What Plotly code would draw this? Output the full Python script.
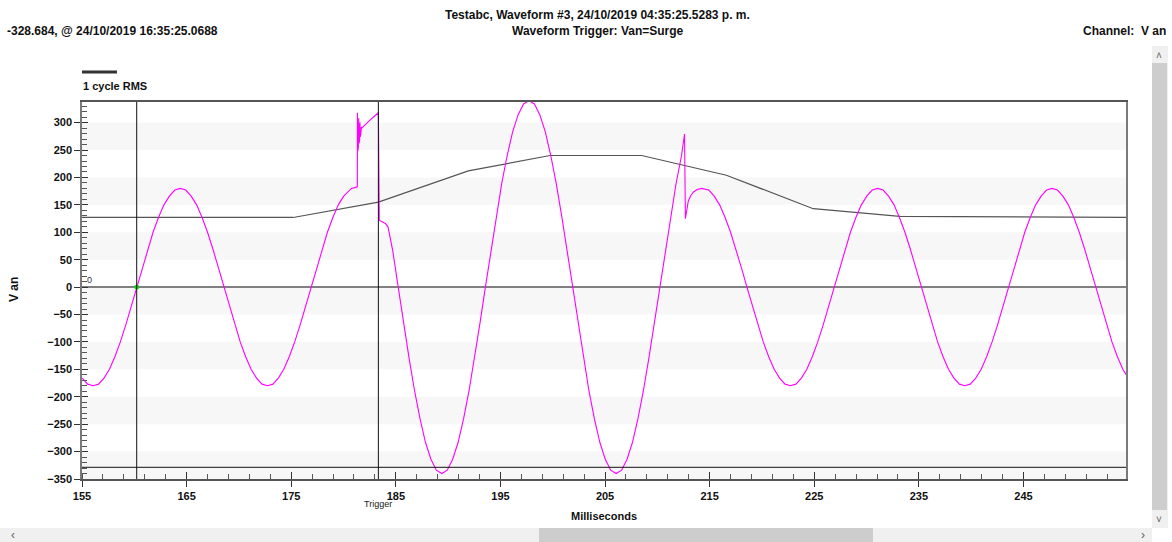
import plotly.graph_objects as go

# ---------------- data ----------------
# V an waveform, sampled on a regular grid (start time + sample interval, ms)
SAMPLE_START_MS = 155.02
SAMPLE_INTERVAL_MS = 0.520833
van_samples = [
    -166, -177, -180, -177, -166, -150, -127, -100, -69, -35,
    0, 35, 69, 100, 127, 150, 166, 177, 180, 177, 166, 150, 127, 100, 69, 35,
    0, -35, -69, -100, -127, -150, -166, -177, -180, -177, -166, -150, -127, -100, -69, -35,
    0, 35, 69, 100, 127, 150, 166, 177,
    None, None, None, None, None, None, None,
    66, 0, -66, -130, -189, -240, -283, -314, -334, -340, -334, -314, -283, -240, -189, -130, -66,
    0, 66, 130, 189, 240, 283, 314, 334, 340, 334, 314, 283, 240, 189, 130, 66,
    0, -66, -130, -189, -240, -283, -314, -334, -340, -334, -314, -283, -240, -189, -130, -66,
    0, 66, 130, 189, 240,
    None, None, None, None,
    177, 166, 150, 127, 100, 69, 35, 0, -35, -69, -100, -127, -150, -166, -177, -180, -177,
    -166, -150, -127, -100, -69, -35,
    0, 35, 69, 100, 127, 150, 166, 177, 180, 177, 166, 150, 127, 100, 69, 35,
    0, -35, -69, -100, -127, -150, -166, -177, -180, -177, -166, -150, -127, -100, -69, -35,
    0, 35, 69, 100, 127, 150, 166, 177, 180, 177, 166, 150, 127, 100, 69, 35,
    0, -35, -69, -100, -127, -150, -166,
]

# surge detail read point by point (ms, V)
surge1_t = [180.75, 181.0, 181.2, 181.32, 181.33, 181.36, 181.39, 181.42, 181.45, 181.48,
            181.51, 181.54, 181.57, 181.60, 181.63, 181.66, 181.70, 181.75, 182.5, 183.33,
            183.42, 183.7, 184.0, 184.25]
surge1_v = [180, 181, 182, 183, 318, 248, 314, 255, 308, 262,
            304, 268, 300, 274, 296, 280, 292, 290, 304, 318,
            122, 119, 116, 110]
surge2_t = [212.6, 212.68, 212.8, 212.96, 213.2, 213.44, 213.8, 214.24]
surge2_v = [279, 125, 143, 157, 167, 173, 178, 180]

# 1 cycle RMS (ms, V)
rms_t = [155.0, 175.19, 183.33, 191.93, 199.74, 208.5, 216.6, 224.9, 233.2, 255.0]
rms_v = [127, 127, 155, 212, 240, 240, 204, 143, 129, 127]

# cursors
cursor_times = [160.23, 183.33]
cursor_level = -328.684

X_RANGE = [155, 254.8]
Y_RANGE = [-350, 337.6]

# ---------------- build waveform ----------------
pts = []
for i, v in enumerate(van_samples):
    if v is not None:
        pts.append((SAMPLE_START_MS + i * SAMPLE_INTERVAL_MS, v))
pts += list(zip(surge1_t, surge1_v)) + list(zip(surge2_t, surge2_v))
pts.sort(key=lambda p: p[0])
wx = [p[0] for p in pts]
wy = [p[1] for p in pts]

# ---------------- pixel helpers ----------------
W, H = 1172, 542
L, R, T, B = 82, 1126, 102, 479


def px(x):
    return (x - L) / (R - L)


def py(y):
    return (B - y) / (B - T)


FONT = "Arial, Liberation Sans, sans-serif"

fig = go.Figure()

fig.add_trace(go.Scatter(x=rms_t, y=rms_v, mode="lines",
                         line=dict(color="#555555", width=1.2), hoverinfo="skip"))
fig.add_trace(go.Scatter(x=wx, y=wy, mode="lines",
                         line=dict(color="#ff00ff", width=1.1)))
fig.add_trace(go.Scatter(x=[cursor_times[0]], y=[0], mode="markers",
                         marker=dict(color="#00e000", size=4, symbol="square")))
# dummy trace for overlay axes (inside part of major ticks)
fig.add_trace(go.Scatter(x=[None], y=[None], xaxis="x2", yaxis="y2", mode="lines"))

shapes = []
# alternating background bands
for v0 in range(-350, 300, 100):
    shapes.append(dict(type="rect", xref="paper", yref="y", x0=0, x1=1, y0=v0, y1=v0 + 50,
                       fillcolor="#f7f7f7", line=dict(width=0), layer="below"))
# cursors
for ct in cursor_times:
    shapes.append(dict(type="line", xref="x", yref="paper", x0=ct, x1=ct, y0=0, y1=1,
                       line=dict(color="#111111", width=1)))
shapes.append(dict(type="line", xref="paper", yref="y", x0=0, x1=1,
                   y0=cursor_level, y1=cursor_level, line=dict(color="#111111", width=1)))
# RMS legend line
shapes.append(dict(type="line", xref="paper", yref="paper", x0=px(82), x1=px(117),
                   y0=py(72), y1=py(72), line=dict(color="#333333", width=3)))
# scrollbars
shapes.append(dict(type="rect", xref="paper", yref="paper", x0=px(0), x1=px(1152),
                   y0=py(542), y1=py(528), fillcolor="#f0f0f0", line=dict(width=0)))
shapes.append(dict(type="rect", xref="paper", yref="paper", x0=px(539), x1=px(873),
                   y0=py(542), y1=py(528), fillcolor="#cdcdcd", line=dict(width=0)))
shapes.append(dict(type="rect", xref="paper", yref="paper", x0=px(1152), x1=px(1168),
                   y0=py(528), y1=py(46), fillcolor="#f0f0f0", line=dict(width=0)))
shapes.append(dict(type="rect", xref="paper", yref="paper", x0=px(1152), x1=px(1167),
                   y0=py(510), y1=py(63), fillcolor="#cdcdcd", line=dict(width=0)))

bold = dict(family=FONT, size=12, color="#111111", weight="bold")
ann = [
    dict(text="Testabc, Waveform #3, 24/10/2019 04:35:25.5283 p. m.", x=px(597), y=py(15),
         xanchor="center", yanchor="middle", font=bold),
    dict(text="Waveform Trigger: Van=Surge", x=px(598), y=py(31),
         xanchor="center", yanchor="middle", font=bold),
    dict(text="-328.684, @ 24/10/2019 16:35:25.0688", x=px(5), y=py(31),
         xanchor="left", yanchor="middle", font=bold),
    dict(text="Channel:  V an", x=px(1168), y=py(31),
         xanchor="right", yanchor="middle", font=bold),
    dict(text="1 cycle RMS", x=px(81), y=py(86), xanchor="left", yanchor="middle",
         font=dict(family=FONT, size=11, color="#111111", weight="bold")),
    dict(text="Milliseconds", x=px(604), y=py(516), xanchor="center", yanchor="middle",
         font=dict(family=FONT, size=11, color="#111111", weight="bold")),
    dict(text="V an", x=px(14), y=py(290), xanchor="center", yanchor="middle", textangle=-90,
         font=dict(family=FONT, size=12, color="#111111", weight="bold")),
    dict(text="Trigger", x=cursor_times[1], xref="x", y=py(504), xanchor="center",
         yanchor="middle", font=dict(family=FONT, size=9, color="#222222")),
    dict(text="0", x=px(85), y=0, yref="y", xanchor="left", yanchor="bottom",
         font=dict(family=FONT, size=9, color="#333333")),
    dict(text="˄", x=px(1159), y=py(55), xanchor="center", yanchor="middle",
         font=dict(family=FONT, size=10, color="#606060")),
    dict(text="˅", x=px(1159), y=py(519), xanchor="center", yanchor="middle",
         font=dict(family=FONT, size=10, color="#606060")),
    dict(text="‹", x=px(13), y=py(535), xanchor="center", yanchor="middle",
         font=dict(family=FONT, size=12, color="#606060")),
    dict(text="›", x=px(1143), y=py(535), xanchor="center", yanchor="middle",
         font=dict(family=FONT, size=12, color="#606060")),
]
for a in ann:
    a.setdefault("xref", "paper")
    a.setdefault("yref", "paper")
    a["showarrow"] = False

tickfont = dict(family=FONT, size=11, color="#111111", weight="bold")
fig.update_layout(
    width=W, height=H,
    margin=dict(l=L, r=W - R, t=T, b=H - B),
    paper_bgcolor="white", plot_bgcolor="white",
    showlegend=False,
    shapes=shapes, annotations=ann,
    xaxis=dict(range=X_RANGE, tick0=155, dtick=10, ticks="outside", ticklen=6,
               tickcolor="#333333", tickfont=tickfont, showgrid=False, zeroline=False,
               showline=True, linecolor="#555555", linewidth=1.5, mirror=True,
               minor=dict(dtick=2, tick0=155, ticks="inside", ticklen=5, tickcolor="#555555")),
    yaxis=dict(range=Y_RANGE, tick0=0, dtick=50, ticks="outside", ticklen=6,
               tickcolor="#333333", tickfont=tickfont, showgrid=False,
               zeroline=True, zerolinecolor="#808080", zerolinewidth=2,
               showline=True, linecolor="#7a7a7a", linewidth=1.5, mirror=True,
               minor=dict(dtick=10, tick0=0, ticks="inside", ticklen=5, tickcolor="#555555")),
    xaxis2=dict(range=X_RANGE, overlaying="x", anchor="y", side="bottom", tick0=155, dtick=10,
                ticks="inside", ticklen=7, tickcolor="#333333", showticklabels=False,
                showgrid=False, zeroline=False, showline=False),
    yaxis2=dict(range=Y_RANGE, overlaying="y", anchor="x", side="left", tick0=0, dtick=50,
                ticks="inside", ticklen=6, tickcolor="#333333", showticklabels=False,
                showgrid=False, zeroline=False, showline=False),
)

fig.write_html(
    "out.html",
    config={"displayModeBar": False},
    post_script="document.body.style.margin='0px';document.body.style.overflow='hidden';",
)
